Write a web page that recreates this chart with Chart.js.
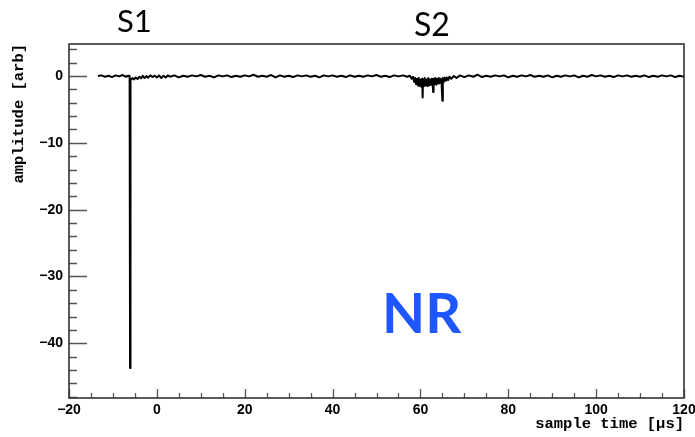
<!DOCTYPE html>
<html lang="en">
<head>
<meta charset="UTF-8">
<title>Waveform • S1 / S2</title>
<script src="https://cdn.jsdelivr.net/npm/chart.js"></script>
<style>
  html, body { margin: 0; padding: 0; background: #fff; }
  #wrap { position: relative; width: 695px; height: 437px; }
  .tag { position: absolute; font-family: Lato, "Open Sans", sans-serif; line-height: 1.2; white-space: nowrap; }
  #s1 { left: 117px; top: 2px; font-size: 31px; color: #000; }
  #s2 { left: 414px; top: 5px; font-size: 32px; color: #000; }
  #nr { left: 382px; top: 278px; font-size: 56px; font-weight: bold; color: #1e56ff; }
</style>
</head>
<body>
<div id="wrap">
  <canvas id="wave" width="695" height="437"></canvas>
  <div class="tag" id="s1">S1</div>
  <div class="tag" id="s2">S2</div>
  <div class="tag" id="nr">NR</div>
</div>

<script>
  // sample time [µs]
  const sampleTime = [
    -13.4, -12.6, -11.8, -11.0, -10.2, -9.4, -8.6, -7.8, -7.0, -6.5, -6.2, -6.1, -6.0,
    -5.6, -5.2, -4.8, -4.4, -4.0, -3.6, -3.2, -2.8, -2.4, -2.0, -1.5, -1.0, -0.5,
    0, 0.5, 1.0, 1.5, 2.0, 2.5, 3, 4, 5, 6, 7, 8, 9, 10,
    11, 12, 13, 14, 15, 16, 17, 18, 19, 20, 21, 22, 23, 24, 25, 26, 27, 28, 29, 30,
    31, 32, 33, 34, 35, 36, 37, 38, 39, 40, 41, 42, 43, 44, 45, 46, 47, 48, 49, 50,
    51, 52, 53, 54, 55, 56, 57, 57.6, 58.0, 58.3, 58.6, 58.8, 59.0, 59.2, 59.4, 59.6, 59.8,
    60.0, 60.2, 60.4, 60.5, 60.6, 60.8, 61.0, 61.2, 61.4, 61.6, 61.8, 62.0, 62.2, 62.4,
    62.6, 62.8, 62.9, 63.0, 63.2, 63.4, 63.6, 63.8, 64.0, 64.2, 64.4, 64.6, 64.8, 65.0,
    65.1, 65.3, 65.5, 65.8, 66.0, 66.3, 66.6, 67.0, 67.6, 68.2, 69, 70,
    71, 72, 73, 74, 75, 76, 77, 78, 79, 80, 81, 82, 83, 84, 85, 86, 87, 88, 89, 90,
    91, 92, 93, 94, 95, 96, 97, 98, 99, 100, 101, 102, 103, 104, 105, 106, 107, 108, 109, 110,
    111, 112, 113, 114, 115, 116, 117, 118, 119, 120
  ];
  // amplitude [arb]
  const amplitude = [
    0.0, 0.1, -0.1, 0.05, -0.15, 0.1, -0.05, 0.15, -0.1, 0.05, 0.0, -43.7, -0.6,
    -0.3, -0.5, -0.2, -0.45, -0.1, -0.35, 0.05, -0.3, 0.0, -0.25, 0.1, -0.15, 0.05,
    -0.2, 0.1, -0.3, 0.05, -0.2, 0.1, -0.1, 0.1, -0.2, 0.05, -0.1, 0.1, -0.05, 0.15,
    -0.1, 0.05, -0.2, 0.1, -0.05, 0.1, -0.15, 0.05, -0.1, 0.1, -0.05, 0.2, -0.1, 0.05, -0.1, 0.15, -0.2, 0.1, -0.1, 0.05,
    -0.15, 0.1, -0.05, 0.1, -0.1, 0.05, -0.2, 0.1, -0.05, 0.1, -0.1, 0.05, -0.15, 0.1, -0.1, 0.05, -0.1, 0.1, -0.05, 0.15,
    -0.1, 0.05, -0.15, 0.1, -0.05, 0.1, -0.1, 0.05, -0.4, -0.1, -0.9, -0.3, -1.2, -0.4, -1.4, -0.3, -1.5,
    -0.5, -1.6, -0.4, -3.2, -0.6, -1.5, -0.3, -1.4, -0.5, -1.5, -0.3, -1.4, -0.5, -1.3,
    -0.4, -1.4, -2.4, -0.4, -1.2, -0.3, -1.3, -0.4, -1.1, -0.3, -1.0, -0.4, -0.9, -3.7,
    -0.3, -0.9, -0.2, -0.7, -0.2, -0.6, -0.1, -0.4, 0.0, -0.3, 0.1, -0.15, 0.1,
    -0.1, 0.2, -0.15, 0.05, -0.1, 0.1, -0.05, 0.1, -0.2, 0.05, -0.1, 0.1, -0.05, 0.15, -0.1, 0.05, -0.1, 0.1, -0.2, 0.05,
    -0.1, 0.1, -0.05, 0.1, -0.2, 0.05, -0.1, 0.15, -0.05, 0.1, -0.1, 0.05, -0.15, 0.1, -0.05, 0.1, -0.1, 0.05, -0.1, 0.1,
    -0.15, 0.05, -0.1, 0.1, -0.05, 0.1, -0.15, 0.05, -0.1, 0.2
  ];
  const xTicks = [-20, 0, 20, 40, 60, 80, 100, 120];
  const yTicks = [-40, -30, -20, -10, 0];

  const minus = v => String(v).replace('-', '\u2212');

  // ROOT-style frame with inward tick marks
  const frameTicks = {
    id: 'frameTicks',
    afterDatasetsDraw(chart) {
      const { ctx, chartArea: a, scales: { x, y } } = chart;
      ctx.save();
      ctx.strokeStyle = '#555';
      ctx.lineWidth = 1.3;
      ctx.beginPath();
      for (let v = -20; v <= 120; v += 5) {
        const px = Math.round(x.getPixelForValue(v)) + 0.5;
        const len = v % 20 === 0 ? 9 : 5;
        ctx.moveTo(px, a.bottom); ctx.lineTo(px, a.bottom - len);
      }
      for (let v = -48; v <= 4; v += 2) {
        const py = Math.round(y.getPixelForValue(v)) + 0.5;
        const len = v % 10 === 0 ? 18 : 8;
        ctx.moveTo(a.left, py); ctx.lineTo(a.left + len, py);
      }
      ctx.stroke();
      ctx.strokeStyle = '#333';
      ctx.lineWidth = 1.6;
      ctx.strokeRect(a.left, a.top, a.right - a.left, a.bottom - a.top);
      ctx.restore();
    }
  };

  const tickFont = { family: '"Liberation Sans", Arial, sans-serif', weight: 'bold', size: 14 };
  const titleFont = { family: '"Liberation Mono", "Courier New", monospace', weight: 'bold', size: 15.5 };

  new Chart(document.getElementById('wave').getContext('2d'), {
    type: 'line',
    data: {
      datasets: [{
        data: sampleTime.map((t, i) => ({ x: t, y: amplitude[i] })),
        borderColor: '#000',
        borderWidth: 2,
        borderJoinStyle: 'round',
        pointRadius: 0,
        tension: 0,
        fill: false
      }]
    },
    options: {
      responsive: false,
      animation: false,
      events: [],
      layout: { padding: { top: 44, right: 11, left: 0, bottom: 0 } },
      plugins: { legend: { display: false }, tooltip: { enabled: false } },
      scales: {
        x: {
          type: 'linear',
          min: -20, max: 120,
          afterBuildTicks: s => { s.ticks = xTicks.map(v => ({ value: v })); },
          afterFit: s => { s.height = 39; s.paddingLeft = 0; s.paddingRight = 0; },
          grid: { display: false, drawTicks: false },
          border: { display: false },
          ticks: { font: tickFont, color: '#000', padding: 4, maxRotation: 0, callback: minus },
          title: { display: true, text: 'sample time [\u00b5s]', align: 'end', font: titleFont, color: '#000', padding: { top: 0, bottom: 4 } }
        },
        y: {
          min: -48.2, max: 4.8,
          afterBuildTicks: s => { s.ticks = yTicks.map(v => ({ value: v })); },
          afterFit: s => { s.width = 69; s.paddingTop = 0; s.paddingBottom = 0; },
          grid: { display: false, drawTicks: false },
          border: { display: false },
          ticks: { font: tickFont, color: '#000', padding: 6, callback: minus },
          title: { display: true, text: 'amplitude [arb]', align: 'end', font: titleFont, color: '#000', padding: { top: 10, bottom: 0 } }
        }
      }
    },
    plugins: [frameTicks]
  });
</script>
</body>
</html>
